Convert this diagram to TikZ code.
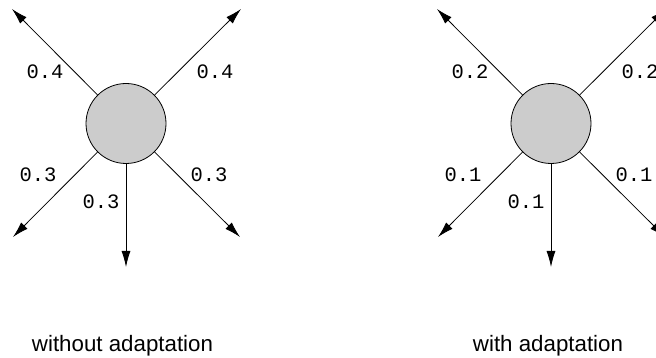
\documentclass[tikz,border=0pt]{standalone}
\usepackage{fontspec}
\setmainfont{Liberation Sans}
\setmonofont{Liberation Mono}
\usepackage{tikz}
\usetikzlibrary{positioning,arrows.meta}
\definecolor{agent}{HTML}{CCCCCC}

\begin{document}
\begin{tikzpicture}[
      x=1pt, y=-1pt,
      hub/.style={draw, circle, fill=agent, line width=0.8pt,
                  minimum size=80pt, inner sep=0pt},
      flow/.style={-{Latex[length=16pt,width=9pt]}, line width=0.8pt},
      prob/.style={font=\fontsize{20.5}{24}\selectfont\ttfamily, inner sep=0pt},
      caption/.style={font=\fontsize{22.3}{26}\selectfont, inner sep=0pt, anchor=base}
    ]
    \useasboundingbox (0,0) rectangle (656,358);

    % without adaptation
    \node[hub] (hubA) at (126,123.5) {};
    \coordinate (aUL) at (12,9);
    \coordinate (aUR) at (241,9);
    \coordinate (aLL) at (13,237);
    \coordinate (aLR) at (240,237);
    \coordinate (aD)  at (126,267);
    \draw[flow] (hubA) -- (aUL);
    \draw[flow] (hubA) -- (aUR);
    \draw[flow] (hubA) -- (aLL);
    \draw[flow] (hubA) -- (aLR);
    \draw[flow] (hubA) -- (aD);
    \node[prob] (pAUL) at (45,72)  {0.4};
    \node[prob] (pAUR) at (215,72) {0.4};
    \node[prob] (pALL) at (38,175) {0.3};
    \node[prob] (pALR) at (209,175) {0.3};
    \node[prob] (pAD)  at (101,202) {0.3};
    \node[caption] (capA) at (122.5,351) {without adaptation};

    % with adaptation
    \node[hub] (hubB) at (551,123.5) {};
    \coordinate (bUL) at (437,9);
    \coordinate (bUR) at (666,9);
    \coordinate (bLL) at (438,237);
    \coordinate (bLR) at (665,237);
    \coordinate (bD)  at (551,267);
    \draw[flow] (hubB) -- (bUL);
    \draw[flow] (hubB) -- (bUR);
    \draw[flow] (hubB) -- (bLL);
    \draw[flow] (hubB) -- (bLR);
    \draw[flow] (hubB) -- (bD);
    \node[prob] (pBUL) at (470,72)  {0.2};
    \node[prob] (pBUR) at (640,72)  {0.2};
    \node[prob] (pBLL) at (463,175) {0.1};
    \node[prob] (pBLR) at (634,175) {0.1};
    \node[prob] (pBD)  at (526,202) {0.1};
    \node[caption] (capB) at (548,351) {with adaptation};

  \end{tikzpicture}
\end{document}
